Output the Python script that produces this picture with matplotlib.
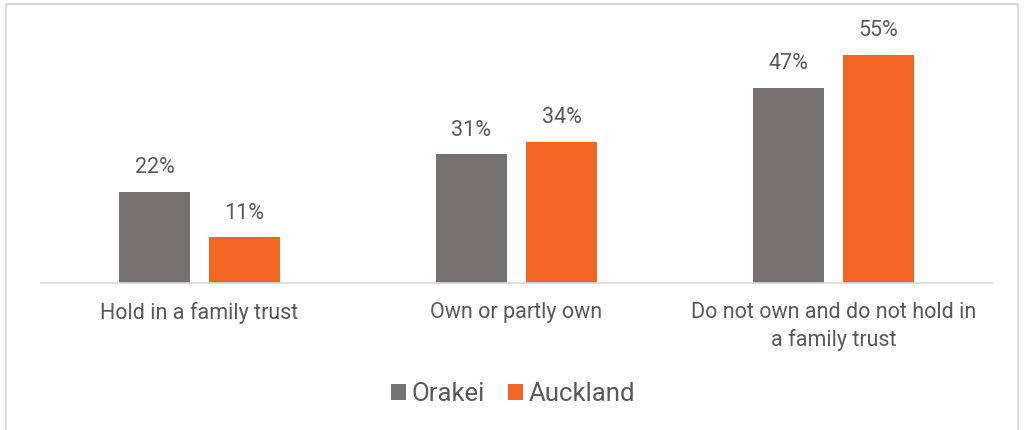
import matplotlib.pyplot as plt
import numpy as np
from matplotlib.lines import Line2D
from matplotlib.patches import Patch

plt.rcParams['font.family'] = ['Roboto', 'DejaVu Sans']

categories = ['Hold in a family trust', 'Own or partly own',
              'Do not own and do not hold in\na family trust']
orakei = [22, 31, 47]
auckland = [11, 34, 55]
series_names = ['Orakei', 'Auckland']
colors = ['#767171', '#F26522']
text_color = '#595959'

fig = plt.figure(figsize=(10.26, 4.30), dpi=100)
ax = fig.add_axes([41 / 1026, 147 / 430, 951 / 1026, 249 / 430])

x = np.arange(len(categories))
width = 0.224
offset = 0.142
for vals, off, col in [(orakei, -offset, colors[0]), (auckland, offset, colors[1])]:
    bars = ax.bar(x + off, vals, width, color=col)
    for b, v in zip(bars, vals):
        ax.text(b.get_x() + b.get_width() / 2, v + 3.3, f'{v}%', ha='center',
                va='bottom', fontsize=15.5, color=text_color, clip_on=False)

ax.set_xlim(-0.5, 2.5)
ax.set_ylim(0, 60)
ax.set_yticks([])
ax.set_xticks(x)
ax.set_xticklabels(categories, fontsize=15.5, color=text_color, linespacing=1.3)
ax.tick_params(axis='x', length=0, pad=14)
for s in ['top', 'right', 'left']:
    ax.spines[s].set_visible(False)
ax.spines['bottom'].set_color('#D9D9D9')
ax.spines['bottom'].set_linewidth(1.2)

handles = [Patch(facecolor=c, label=n) for c, n in zip(colors, series_names)]
fig.legend(handles=handles, loc='center', bbox_to_anchor=(0.5, 1 - 394 / 430),
           ncol=2, frameon=False, fontsize=18.5, handlelength=0.6, handleheight=0.6,
           handletextpad=0.2, columnspacing=0.9, labelcolor=text_color)

# light frame around the chart
bx0, bx1, by0 = 6 / 1026, 1018 / 1026, 1 - 4 / 430
for xs, ys in [([bx0, bx1], [by0, by0]), ([bx0, bx0], [by0, 0]), ([bx1, bx1], [by0, 0])]:
    fig.add_artist(Line2D(xs, ys, color='#D9D9D9', linewidth=1.5))

fig.savefig('out.png', dpi=100)
